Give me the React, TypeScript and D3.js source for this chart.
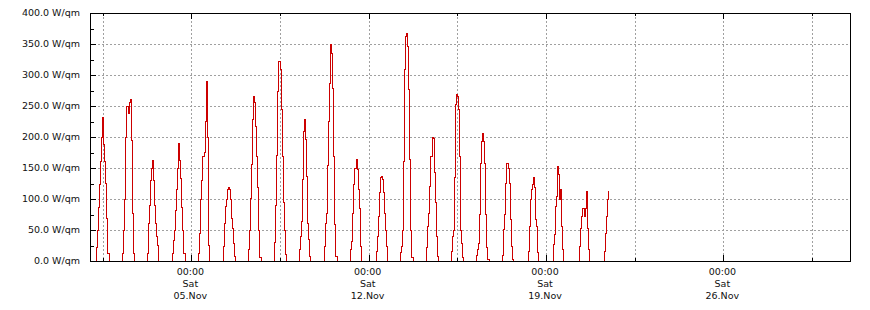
import React from "react";
import * as d3 from "d3";

// Hourly global radiation readings (W/qm), one array per day starting Nov 1 2022
const dayStartHour = [6, 7, 6, 6, 7, 6, 6, 7, 6, 6, 7, 7, 6, 7, 6, 6, 7, 7, 7, 8, 7];
const dayValues: number[][] = [
  [22, 50, 87, 124, 160, 200, 232, 188, 160, 125, 68, 12, 0],
  [12, 50, 99, 200, 250, 238, 255, 260, 195, 76, 12, 0],
  [12, 60, 90, 130, 150, 162, 130, 90, 60, 40, 25, 0],
  [12, 33, 50, 82, 115, 150, 190, 162, 133, 87, 50, 12, 0],
  [12, 45, 99, 130, 168, 175, 225, 290, 200, 25, 0],
  [24, 61, 88, 100, 116, 118, 115, 99, 69, 53, 29, 8, 0],
  [18, 50, 101, 155, 228, 265, 255, 217, 169, 118, 50, 5, 0],
  [30, 89, 170, 274, 321, 309, 244, 169, 94, 50, 10, 0],
  [18, 40, 64, 131, 209, 229, 196, 137, 61, 34, 8, 0],
  [24, 61, 77, 154, 225, 287, 349, 335, 279, 169, 59, 8, 0],
  [18, 32, 77, 123, 150, 163, 147, 115, 85, 24, 0],
  [16, 40, 72, 110, 134, 137, 131, 110, 77, 50, 24, 0],
  [14, 24, 50, 160, 309, 362, 367, 346, 276, 163, 50, 5, 0],
  [21, 55, 77, 120, 169, 200, 198, 142, 94, 40, 8, 0],
  [16, 40, 50, 134, 252, 268, 266, 244, 169, 50, 29, 5, 0],
  [9, 18, 29, 75, 158, 193, 205, 193, 158, 75, 21, 3, 0],
  [9, 51, 75, 125, 158, 150, 125, 67, 24, 3, 0],
  [16, 56, 99, 115, 123, 134, 118, 67, 56, 13, 0],
  [26, 42, 88, 104, 153, 140, 100, 115, 56, 18, 0],
  [24, 53, 72, 85, 72, 85, 112, 53, 18, 0],
  [16, 45, 72, 99, 113],
];

const yTicks = [0, 50, 100, 150, 200, 250, 300, 350, 400];
const yMinorTicks = [25, 75, 125, 175, 225, 275, 325, 375];
const yUnit = " W/qm";
const xMajorDates = ["2022-11-05", "2022-11-12", "2022-11-19", "2022-11-26"];
const xMajorTime = ["00:00", "00:00", "00:00", "00:00"];
const xMajorWeekday = ["Sat", "Sat", "Sat", "Sat"];
const xMajorDay = ["05.Nov", "12.Nov", "19.Nov", "26.Nov"];
const xMinorDates = ["2022-11-01T12:00", "2022-11-08T12:00", "2022-11-15T12:00", "2022-11-22T12:00", "2022-11-29T12:00"];

const W = 870;
const H = 310;
const L = 90, R = 850, T = 13, B = 261;

const parseUtc = (s: string) => {
  const [d, t] = s.split("T");
  const [y, m, dd] = d.split("-").map(Number);
  const [hh, mm] = t ? t.split(":").map(Number) : [0, 0];
  return new Date(Date.UTC(y, m - 1, dd, hh, mm));
};

export default function App() {
  const x = d3.scaleUtc().domain([new Date(Date.UTC(2022, 10, 1)), new Date(Date.UTC(2022, 11, 1))]).range([L, R]);
  const y = d3.scaleLinear().domain([0, 400]).range([B, T]);

  const points: { t: Date; v: number }[] = [];
  dayValues.forEach((vals, d) => {
    const start = dayStartHour[d];
    points.push({ t: new Date(Date.UTC(2022, 10, 1 + d, start - 1)), v: 0 });
    vals.forEach((v, i) => {
      points.push({ t: new Date(Date.UTC(2022, 10, 1 + d, start + i)), v });
    });
  });

  const line = d3
    .line<{ t: Date; v: number }>()
    .x((p) => x(p.t))
    .y((p) => y(p.v))
    .curve(d3.curveStepAfter);

  const font = "'DejaVu Sans', Verdana, sans-serif";
  const gridColor = "#a0a0a0";
  const fs = 9.5;

  const xMajor = xMajorDates.map(parseUtc);
  const xMinor = xMinorDates.map(parseUtc);
  const allX = [...xMajor, ...xMinor];

  return (
    <svg width={W} height={H} style={{ display: "block", position: "absolute", left: 0, top: 0, background: "#fff" }}>
      <rect x={0} y={0} width={W} height={H} fill="#fff" />
      {/* horizontal grid */}
      {yTicks.slice(1, -1).map((v) => (
        <line key={"hg" + v} x1={L} x2={R} y1={Math.round(y(v)) + 0.5} y2={Math.round(y(v)) + 0.5}
          stroke={gridColor} strokeDasharray="2,2" strokeWidth={1} />
      ))}
      {/* vertical grid */}
      {allX.map((d, i) => (
        <line key={"vg" + i} x1={Math.round(x(d)) + 0.5} x2={Math.round(x(d)) + 0.5} y1={T} y2={B}
          stroke={gridColor} strokeDasharray="2,2" strokeWidth={1} />
      ))}
      {/* data */}
      <path d={line(points) || ""} fill="none" stroke="#cc0000" strokeWidth={1} shapeRendering="crispEdges" />
      {/* frame */}
      <rect x={L + 0.5} y={T + 0.5} width={R - L} height={B - T} fill="none" stroke="#000" strokeWidth={1} />
      {/* y ticks */}
      {yTicks.map((v) => (
        <line key={"yt" + v} x1={L} x2={L + 6} y1={Math.round(y(v)) + 0.5} y2={Math.round(y(v)) + 0.5} stroke="#000" />
      ))}
      {yMinorTicks.map((v) => (
        <line key={"ym" + v} x1={L} x2={L + 4} y1={Math.round(y(v)) + 0.5} y2={Math.round(y(v)) + 0.5} stroke="#000" />
      ))}
      {/* x ticks */}
      {xMajor.map((d, i) => (
        <g key={"xt" + i}>
          <line x1={Math.round(x(d)) + 0.5} x2={Math.round(x(d)) + 0.5} y1={B} y2={B - 6} stroke="#000" />
          <line x1={Math.round(x(d)) + 0.5} x2={Math.round(x(d)) + 0.5} y1={T} y2={T + 6} stroke="#000" />
        </g>
      ))}
      {xMinor.map((d, i) => (
        <g key={"xm" + i}>
          <line x1={Math.round(x(d)) + 0.5} x2={Math.round(x(d)) + 0.5} y1={B} y2={B - 3} stroke="#000" />
          <line x1={Math.round(x(d)) + 0.5} x2={Math.round(x(d)) + 0.5} y1={T} y2={T + 3} stroke="#000" />
        </g>
      ))}
      {/* y labels */}
      {yTicks.map((v) => (
        <text key={"yl" + v} x={80} y={y(v)} dy="0.35em" textAnchor="end" fontFamily={font} fontSize={fs} fill="#111">
          {d3.format(".1f")(v) + yUnit}
        </text>
      ))}
      {/* x labels */}
      {xMajor.map((d, i) => (
        <text key={"xl" + i} x={x(d) - 1} textAnchor="middle" fontFamily={font} fontSize={fs} fill="#111">
          <tspan x={x(d) - 1} y={272} dy="0.35em">{xMajorTime[i]}</tspan>
          <tspan x={x(d) - 1} y={284} dy="0.35em">{xMajorWeekday[i]}</tspan>
          <tspan x={x(d) - 1} y={296} dy="0.35em">{xMajorDay[i]}</tspan>
        </text>
      ))}
    </svg>
  );
}
